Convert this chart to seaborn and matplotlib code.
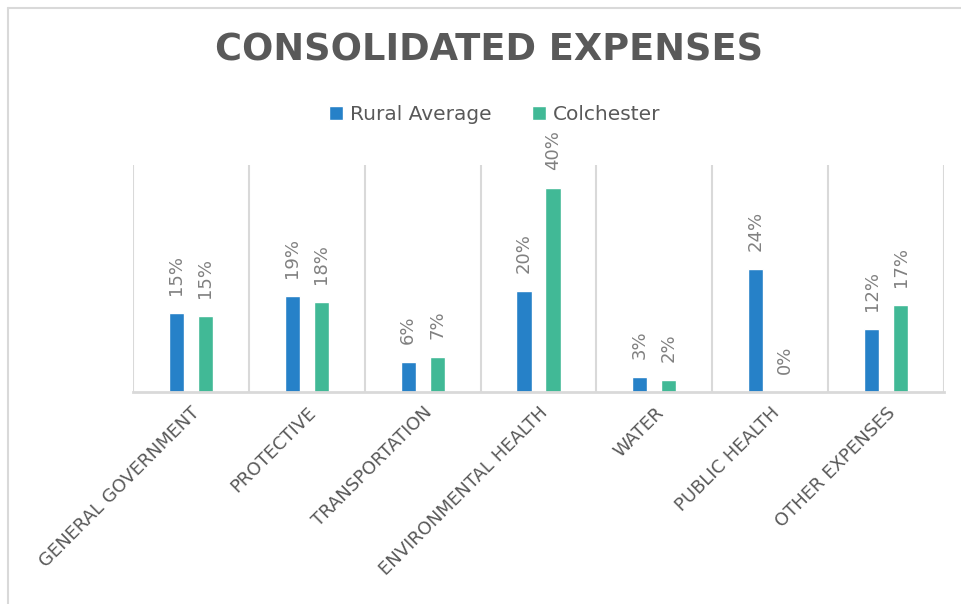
import pandas as pd
import matplotlib.pyplot as plt
import matplotlib.lines as mlines
import seaborn as sns

# ── Data ────────────────────────────────────────────────
categories = ['GENERAL GOVERNMENT', 'PROTECTIVE', 'TRANSPORTATION',
              'ENVIRONMENTAL HEALTH', 'WATER', 'PUBLIC HEALTH', 'OTHER EXPENSES']
series = ['Rural Average', 'Colchester']
rural_avg = [15.4, 18.8, 5.9, 19.8, 2.9, 24.1, 12.4]
colchester = [14.9, 17.6, 6.9, 40.0, 2.4, 0.0, 17.1]

BLUE = '#2681C8'
GREEN = '#41B996'
GREY_TXT = '#595959'
LABEL_TXT = '#808080'
LINE = '#D9D9D9'

df = pd.DataFrame({
    'category': categories * 2,
    'series': [series[0]] * len(categories) + [series[1]] * len(categories),
    'value': rural_avg + colchester,
})

sns.set_style('white')
plt.rcParams['font.family'] = ['DejaVu Sans']

fig = plt.figure(figsize=(9.61, 6.04), dpi=100, facecolor='white')
ax = fig.add_axes([0.1384, 0.351, 0.9823 - 0.1384, 0.7268 - 0.351])

sns.barplot(data=df, x='category', y='value', hue='series', order=categories,
            hue_order=series, palette=[BLUE, GREEN], width=0.5, gap=0.48,
            dodge=True, ax=ax, legend=True, saturation=1)

ax.set_xlim(-0.5, len(categories) - 0.5)
ax.set_ylim(0, 44.5)

# data labels
for cont in ax.containers:
    vals = [b.get_height() for b in cont]
    ax.bar_label(cont, labels=[f'{v:.0f}%' for v in vals], rotation=90,
                 padding=13, color=LABEL_TXT, fontsize=13)

# vertical separators between categories
ax.set_xticks([i - 0.5 for i in range(len(categories) + 1)], minor=True)
ax.grid(True, which='minor', axis='x', color=LINE, linewidth=1.5)
ax.grid(False, which='major')
ax.tick_params(axis='x', which='both', length=0)
ax.set_yticks([])
for s in ['top', 'right', 'left']:
    ax.spines[s].set_visible(False)
ax.spines['bottom'].set_color(LINE)
ax.spines['bottom'].set_linewidth(2)
ax.set_xlabel('')
ax.set_ylabel('')

ax.set_xticks(range(len(categories)))
ax.set_xticklabels(categories, rotation=45, ha='right', va='top',
                   rotation_mode='anchor', color=GREY_TXT, fontsize=13)
for lbl in ax.get_xticklabels():
    lbl.set_y(-0.03)

# legend
handles, labels = ax.get_legend_handles_labels()
ax.legend_.remove()
fig.legend(handles, labels, loc='center', bbox_to_anchor=(0.515, 0.81), ncol=2,
           frameon=False, fontsize=14.5, labelcolor=GREY_TXT, handlelength=0.7,
           handleheight=0.7, handletextpad=0.35, columnspacing=2.0)

fig.text(0.509, 0.917, 'CONSOLIDATED EXPENSES', ha='center', va='center',
         fontsize=26.5, fontweight='bold', color=GREY_TXT)

# chart frame (only left and top edges visible)
fig.add_artist(mlines.Line2D([7.5 / 961, 7.5 / 961], [0, 1 - 7.5 / 604],
                             color=LINE, linewidth=1.5, transform=fig.transFigure))
fig.add_artist(mlines.Line2D([7.5 / 961, 1], [1 - 7.5 / 604, 1 - 7.5 / 604],
                             color=LINE, linewidth=1.5, transform=fig.transFigure))

fig.savefig('out.png', dpi=100, facecolor='white')
